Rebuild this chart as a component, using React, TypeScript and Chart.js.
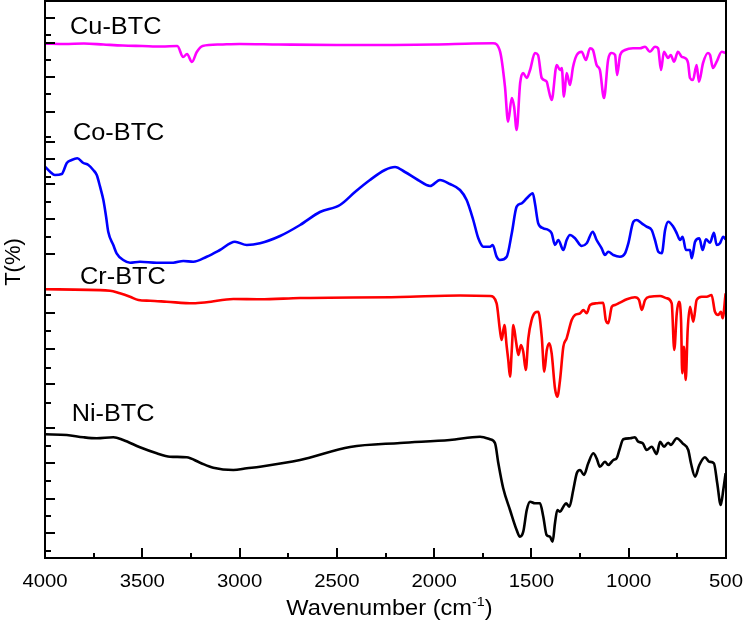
import React, { useEffect, useRef } from "react";
import { Chart, registerables } from "chart.js";

Chart.register(...registerables);

// FTIR spectra, stacked with vertical offsets: [wavenumber (cm-1), T (a.u.)]
const cuBTC: [number, number][] = [
  [4000, 51.43], [3900, 51.4], [3800, 51.45], [3700, 51.35], [3600, 51.25], [3500, 51.2],
  [3400, 51.15], [3320, 51.2], [3290, 50.1], [3270, 50.4], [3245, 49.6], [3220, 50.6],
  [3190, 51.2], [3100, 51.35], [3000, 51.4], [2800, 51.35], [2500, 51.3], [2000, 51.35],
  [1800, 51.45], [1697, 51.47], [1661, 50.63], [1636, 47.13], [1620, 43.63], [1601, 46.0],
  [1589, 45.13], [1576, 42.8], [1558, 47.5], [1543, 48.5], [1524, 48.0], [1507, 48.8],
  [1482, 50.5], [1466, 50.3], [1447, 48.0], [1421, 47.63], [1415, 47.13], [1396, 45.8],
  [1370, 49.3], [1353, 48.8], [1344, 49.0], [1333, 46.13], [1319, 48.5], [1302, 47.3],
  [1286, 49.13], [1267, 50.3], [1242, 50.63], [1220, 49.8], [1199, 50.97], [1184, 50.8],
  [1165, 49.3], [1148, 48.8], [1127, 46.0], [1106, 49.8], [1087, 50.5], [1070, 50.3],
  [1060, 48.3], [1044, 50.3], [1019, 50.8], [978, 50.97], [942, 50.97], [916, 51.13],
  [891, 50.63], [865, 51.13], [849, 50.97], [834, 48.8], [819, 50.63], [798, 50.0],
  [784, 50.3], [767, 49.63], [747, 50.63], [728, 50.13], [711, 50.0], [695, 49.5],
  [685, 48.0], [670, 47.8], [651, 49.3], [639, 47.63], [618, 49.5], [593, 50.5],
  [582, 50.3], [567, 49.0], [548, 49.63], [522, 50.63], [502, 50.5],
];

const coBTC: [number, number][] = [
  [4000, 39.13], [3974, 38.63], [3949, 38.3], [3914, 38.4], [3888, 39.5], [3863, 39.8],
  [3834, 39.97], [3803, 39.5], [3777, 39.3], [3752, 38.8], [3734, 38.3], [3717, 37.13],
  [3700, 35.8], [3686, 34.13], [3675, 32.63], [3649, 31.3], [3632, 30.47], [3598, 29.8],
  [3563, 29.53], [3512, 29.63], [3426, 29.53], [3341, 29.53], [3289, 29.7], [3238, 29.63],
  [3169, 30.13], [3101, 30.8], [3024, 31.63], [2963, 31.3], [2895, 31.47], [2792, 32.2],
  [2689, 33.3], [2587, 34.6], [2484, 35.3], [2407, 36.6], [2330, 37.8], [2253, 38.8],
  [2201, 39.1], [2150, 38.6], [2083, 37.8], [2021, 37.2], [1970, 37.8], [1919, 37.4],
  [1867, 36.8], [1833, 35.8], [1799, 33.8], [1773, 31.97], [1747, 31.13], [1713, 31.13],
  [1699, 31.3], [1679, 30.13], [1662, 29.8], [1627, 30.13], [1601, 32.47], [1576, 35.13],
  [1550, 35.47], [1524, 35.97], [1493, 36.47], [1482, 35.47], [1465, 33.47], [1439, 32.97],
  [1413, 32.8], [1396, 32.47], [1379, 31.3], [1362, 31.8], [1336, 30.8], [1319, 31.8],
  [1302, 32.3], [1276, 31.97], [1242, 31.2], [1216, 31.47], [1185, 32.63], [1165, 31.8],
  [1139, 30.97], [1122, 30.3], [1105, 30.63], [1079, 30.3], [1045, 30.13], [1019, 30.47],
  [1002, 31.47], [976, 33.63], [959, 33.8], [933, 33.47], [908, 33.13], [882, 32.8],
  [865, 31.8], [848, 30.63], [830, 30.47], [813, 32.8], [797, 33.63], [771, 33.13],
  [753, 32.47], [736, 31.8], [723, 32.13], [706, 30.8], [685, 30.8], [676, 29.97],
  [659, 31.63], [637, 31.97], [620, 30.8], [603, 31.87], [582, 31.53], [562, 32.53],
  [548, 31.3], [531, 31.47], [514, 32.13], [502, 31.87],
];

const crBTC: [number, number][] = [
  [4000, 26.87], [3666, 26.73], [3615, 26.47], [3563, 26.13], [3520, 25.8], [3460, 25.73],
  [3375, 25.63], [3238, 25.47], [3169, 25.57], [3032, 25.9], [2895, 25.87], [2689, 26.0],
  [2175, 26.1], [1867, 26.25], [1713, 26.2], [1679, 25.47], [1662, 22.8], [1653, 21.8],
  [1639, 23.3], [1627, 21.13], [1619, 19.8], [1610, 18.13], [1601, 20.8], [1593, 23.3],
  [1579, 21.63], [1567, 20.3], [1554, 21.3], [1542, 20.63], [1529, 18.8], [1516, 21.97],
  [1499, 23.8], [1482, 24.53], [1465, 24.63], [1447, 22.13], [1434, 18.63], [1421, 20.8],
  [1408, 21.47], [1396, 20.47], [1379, 16.97], [1367, 16.13], [1353, 17.8], [1336, 21.13],
  [1319, 21.97], [1293, 23.8], [1276, 24.3], [1250, 24.47], [1233, 24.8], [1216, 24.47],
  [1199, 25.3], [1165, 25.47], [1131, 25.53], [1118, 23.8], [1105, 23.47], [1087, 25.13],
  [1070, 25.3], [1045, 25.53], [1010, 25.87], [968, 26.07], [947, 25.8], [933, 24.8],
  [916, 25.8], [891, 26.13], [839, 26.2], [805, 25.97], [779, 25.47], [766, 20.8],
  [753, 24.47], [742, 25.63], [731, 23.8], [725, 18.47], [716, 21.13], [707, 17.8],
  [697, 22.8], [685, 25.13], [668, 23.63], [651, 25.8], [625, 26.13], [599, 26.13],
  [574, 26.3], [557, 24.63], [540, 24.3], [526, 24.63], [517, 23.97], [502, 26.47],
];

const niBTC: [number, number][] = [
  [4000, 12.37], [3888, 12.3], [3803, 12.07], [3734, 11.97], [3649, 12.07], [3598, 11.8],
  [3512, 11.07], [3426, 10.47], [3358, 10.13], [3272, 10.07], [3203, 9.53], [3135, 9.03],
  [3032, 8.8], [2963, 8.97], [2895, 9.13], [2689, 9.8], [2432, 11.1], [2175, 11.5],
  [1919, 11.8], [1764, 12.13], [1713, 11.87], [1687, 11.47], [1670, 9.47], [1645, 6.97],
  [1610, 4.8], [1576, 2.8], [1559, 2.13], [1542, 2.63], [1524, 4.8], [1507, 5.63],
  [1482, 5.47], [1456, 5.47], [1439, 4.13], [1422, 2.3], [1405, 2.13], [1391, 1.63],
  [1379, 3.47], [1367, 4.8], [1353, 4.63], [1336, 5.13], [1322, 5.47], [1305, 5.13],
  [1285, 6.8], [1267, 8.47], [1250, 8.8], [1230, 8.3], [1208, 9.47], [1182, 10.47],
  [1165, 9.97], [1148, 9.13], [1122, 9.63], [1105, 9.3], [1079, 9.8], [1062, 9.97],
  [1048, 10.8], [1028, 11.87], [993, 11.97], [968, 12.07], [951, 11.63], [928, 11.47],
  [908, 10.8], [882, 11.13], [856, 10.4], [839, 11.63], [819, 11.13], [797, 11.53],
  [784, 11.3], [753, 11.97], [723, 11.47], [694, 10.8], [680, 9.47], [659, 8.13],
  [637, 9.3], [608, 10.07], [586, 9.63], [562, 9.47], [545, 7.47], [527, 5.3],
  [514, 6.8], [502, 8.47],
];

// Axis ranges and tick values
const wavenumberMin = 500;
const wavenumberMax = 4000;
const wavenumberMinorStep = 250;
const wavenumberMajorStep = 500;
const tMin = 0;
const tMax = 55.7;
const tMajorTicks = [53.97, 51.53, 48.07, 44.63, 41.63, 39.9, 37.4, 33.9, 30.37, 24.47, 20.9, 17.37, 12.97, 9.47, 5.93, 2.47];
const tMinorTicks = [52.3, 49.8, 46.37, 42.13, 38.13, 35.63, 32.13, 26.3, 22.7, 18.97, 15.53, 11.23, 7.7, 4.17, 0.7];

const FONT = "'Liberation Sans', Arial, Helvetica, sans-serif";

const seriesStyles = [
  { label: "Cu-BTC", data: cuBTC, color: "#ff00ff" },
  { label: "Co-BTC", data: coBTC, color: "#0000ff" },
  { label: "Cr-BTC", data: crBTC, color: "#ff0000" },
  { label: "Ni-BTC", data: niBTC, color: "#000000" },
];

// Where each trace name sits: left edge at a wavenumber, baseline at a T value
const nameAnchors = [
  { text: "Cu-BTC", wn: 3871, t: 52.4 },
  { text: "Co-BTC", wn: 3856, t: 41.8 },
  { text: "Cr-BTC", wn: 3820, t: 27.45 },
  { text: "Ni-BTC", wn: 3863, t: 13.75 },
];

// Text drawn slightly wide, like the exported figure's lettering
function wideText(ctx: CanvasRenderingContext2D, text: string, x: number, y: number, size: number, stretch: number, align: "left" | "center") {
  ctx.save();
  ctx.font = `${size}px ${FONT}`;
  const w = ctx.measureText(text).width * stretch;
  const left = align === "center" ? x - w / 2 : x;
  ctx.translate(left, y);
  ctx.scale(stretch, 1);
  ctx.textAlign = "left";
  ctx.textBaseline = "alphabetic";
  ctx.fillText(text, 0, 0);
  ctx.restore();
  return w;
}

function textWidth(ctx: CanvasRenderingContext2D, text: string, size: number, stretch: number) {
  ctx.save();
  ctx.font = `${size}px ${FONT}`;
  const w = ctx.measureText(text).width * stretch;
  ctx.restore();
  return w;
}

const frameAndLabels = {
  id: "frameAndLabels",
  afterDraw(chart: any) {
    const { ctx, chartArea: a } = chart;
    const xs = chart.scales.x;
    const ys = chart.scales.y;
    ctx.save();
    ctx.strokeStyle = "#000";
    ctx.fillStyle = "#000";
    ctx.lineWidth = 2;

    // tick marks pointing into the plot
    ctx.beginPath();
    xs.ticks.forEach((t: any) => {
      const px = Math.round(xs.getPixelForValue(t.value));
      const len = t.value % wavenumberMajorStep === 0 ? 10 : 5;
      ctx.moveTo(px, a.bottom);
      ctx.lineTo(px, a.bottom - len);
    });
    tMajorTicks.forEach((v) => {
      const py = Math.round(ys.getPixelForValue(v));
      ctx.moveTo(a.left, py);
      ctx.lineTo(a.left + 10, py);
    });
    tMinorTicks.forEach((v) => {
      const py = Math.round(ys.getPixelForValue(v));
      ctx.moveTo(a.left, py);
      ctx.lineTo(a.left + 6, py);
    });
    ctx.stroke();

    // plot frame
    ctx.strokeRect(a.left, a.top, a.right - a.left, a.bottom - a.top);

    // wavenumber tick labels
    xs.ticks.forEach((t: any) => {
      if (t.value % wavenumberMajorStep !== 0) return;
      wideText(ctx, String(t.value), xs.getPixelForValue(t.value), a.bottom + 29, 19, 1.07, "center");
    });

    // trace names
    nameAnchors.forEach((n) => {
      wideText(ctx, n.text, xs.getPixelForValue(n.wn), ys.getPixelForValue(n.t), 23, 1.1, "left");
    });

    // x axis title with superscript
    const main = "Wavenumber (cm";
    const sup = "-1";
    const close = ")";
    const sx = 1.1;
    const total = textWidth(ctx, main, 21.5, sx) + textWidth(ctx, sup, 13, sx) + textWidth(ctx, close, 21.5, sx);
    const cx = (a.left + a.right) / 2 + 4;
    const base = a.bottom + 57;
    let x0 = cx - total / 2;
    x0 += wideText(ctx, main, x0, base, 21.5, sx, "left");
    x0 += wideText(ctx, sup, x0, base - 9, 13, sx, "left");
    wideText(ctx, close, x0, base, 21.5, sx, "left");

    // y axis title
    ctx.translate(20, 262);
    ctx.rotate(-Math.PI / 2);
    ctx.textAlign = "center";
    ctx.textBaseline = "alphabetic";
    ctx.font = `22px ${FONT}`;
    ctx.fillText("T(%)", 0, 0);
    ctx.restore();
  },
};

export default function App() {
  const canvasRef = useRef<HTMLCanvasElement | null>(null);

  useEffect(() => {
    if (!canvasRef.current) return;
    const chart = new Chart(canvasRef.current, {
      type: "line",
      data: {
        datasets: seriesStyles.map((s) => ({
          label: s.label,
          data: s.data.map(([wn, t]) => ({ x: wn, y: t })),
          borderColor: s.color,
          backgroundColor: s.color,
          borderWidth: 2.6,
          pointRadius: 0,
          cubicInterpolationMode: "monotone" as const,
          fill: false,
        })),
      },
      options: {
        animation: false,
        responsive: false,
        maintainAspectRatio: false,
        devicePixelRatio: 1,
        layout: { padding: { left: 0, right: 18, top: 1, bottom: 0 } },
        plugins: {
          legend: { display: false },
          tooltip: { enabled: false },
          title: { display: false },
        },
        scales: {
          x: {
            type: "linear",
            reverse: true,
            min: wavenumberMin,
            max: wavenumberMax,
            grid: { display: false },
            border: { display: false },
            ticks: {
              display: false,
              stepSize: wavenumberMinorStep,
              autoSkip: false,
            },
            afterFit: (scale: any) => {
              scale.height = 64;
            },
          },
          y: {
            type: "linear",
            min: tMin,
            max: tMax,
            grid: { display: false },
            border: { display: false },
            ticks: { display: false },
            afterFit: (scale: any) => {
              scale.width = 45;
            },
          },
        },
      },
      plugins: [frameAndLabels],
    });
    return () => chart.destroy();
  }, []);

  return (
    <div style={{ position: "fixed", left: 0, top: 0, width: 744, height: 622, background: "#fff" }}>
      <canvas ref={canvasRef} width={744} height={622} style={{ display: "block" }} />
    </div>
  );
}
